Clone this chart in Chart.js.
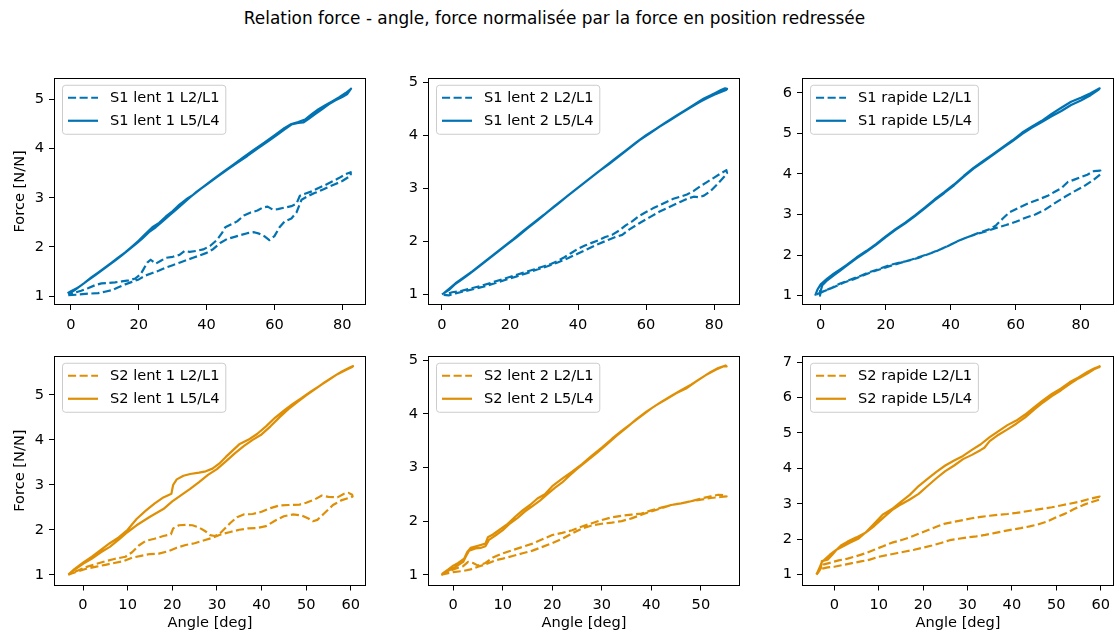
<!DOCTYPE html>
<html>
<head>
<meta charset="utf-8">
<script src="https://cdn.jsdelivr.net/npm/chart.js@4.4.1/dist/chart.umd.min.js"></script>
<style>
  html, body { margin: 0; padding: 0; background: #fff; }
  #fig { position: relative; width: 1117px; height: 634px; overflow: hidden; background: #fff; }
  #fig canvas { position: absolute; }
  #suptitle {
    position: absolute; left: -4px; top: 8px; width: 1117px;
    text-align: center; line-height: 22px;
    font: 16.9px "DejaVu Sans", sans-serif; color: #000;
  }
</style>
</head>
<body>
<div id="fig">
  <div id="suptitle">Relation force - angle, force normalisée par la force en position redressée</div>
</div>
<script>
// tick labels
const xTicksS1 = [0, 20, 40, 60, 80];
const xTicksS2 = [0, 10, 20, 30, 40, 50, 60];
const xTicksS2lent2 = [0, 10, 20, 30, 40, 50];
const yTicks5 = [1, 2, 3, 4, 5];
const yTicks6 = [1, 2, 3, 4, 5, 6];
const yTicks7 = [1, 2, 3, 4, 5, 6, 7];

// S1 lent 1 : angle [deg] / force [N/N], charge puis décharge
const s1Lent1L21Angle = [
  -0.8, 2, 5, 8, 10, 12, 14, 16, 18, 20,
  22, 24, 26, 28, 30, 32, 34, 36, 38, 40,
  42, 44, 46, 48, 50, 52, 54, 55.5, 57, 58.5,
  60, 61.5, 63, 65, 66.5, 68, 70, 72, 74, 76,
  78, 80, 82.5,
  82.5, 81, 79, 77, 75, 73, 71, 69, 67.5, 66.5,
  65, 63, 61, 59.5, 58, 56.5, 55, 53, 51, 49,
  47, 45.5, 44.5, 43, 41, 39, 37, 35, 33.5, 32,
  30, 28, 26.5, 25, 23.5, 22.5, 21.5, 20.5, 19, 17,
  15, 13, 11, 9, 7, 5, 3, 1, -0.8];
const s1Lent1L21Force = [
  1.02, 1.03, 1.05, 1.06, 1.09, 1.12, 1.18, 1.24, 1.29, 1.34,
  1.42, 1.47, 1.52, 1.58, 1.63, 1.68, 1.73, 1.78, 1.83, 1.88,
  1.96, 2.08, 2.16, 2.2, 2.24, 2.28, 2.3, 2.27, 2.22, 2.14,
  2.22, 2.4, 2.52, 2.58, 2.7, 2.96, 3.04, 3.1, 3.16, 3.22,
  3.28, 3.34, 3.45,
  3.52, 3.48, 3.4, 3.33, 3.26, 3.2, 3.13, 3.08, 3.04, 2.88,
  2.83, 2.8, 2.77, 2.76, 2.82, 2.8, 2.74, 2.7, 2.64, 2.52,
  2.45, 2.4, 2.28, 2.14, 2.02, 1.95, 1.92, 1.9, 1.92, 1.84,
  1.8, 1.78, 1.72, 1.66, 1.74, 1.68, 1.56, 1.44, 1.36, 1.32,
  1.3, 1.28, 1.27, 1.26, 1.22, 1.16, 1.11, 1.07, 1.04];
const s1Lent1L54Angle = [
  -0.8, 1, 3, 5, 7, 9, 11, 13, 15, 17,
  19, 21, 23, 25, 27, 29, 31, 33, 35, 37,
  40, 43, 46, 49, 52, 55, 58, 61, 63, 65,
  67, 68.5, 70, 72, 74, 76, 78, 80, 81.5, 82.6,
  82.3, 81, 79, 77, 75, 73, 71, 69, 67, 65,
  63, 60, 57, 54, 51, 48, 45, 42, 39, 36,
  34, 32, 30, 28, 26, 24, 22, 20, 18, 16,
  14, 12, 10, 8, 6, 4, 2, 0, -1];
const s1Lent1L54Force = [
  1.04, 1.12, 1.22, 1.32, 1.42, 1.52, 1.62, 1.72, 1.83, 1.94,
  2.05, 2.17, 2.3, 2.4, 2.52, 2.64, 2.76, 2.88, 3.0, 3.12,
  3.27, 3.42, 3.57, 3.71, 3.85, 4.0, 4.14, 4.29, 4.39, 4.49,
  4.52, 4.53, 4.6, 4.7, 4.8, 4.9, 4.98, 5.05, 5.11, 5.22,
  5.2, 5.13, 5.04, 4.96, 4.88, 4.8, 4.7, 4.59, 4.54, 4.5,
  4.42, 4.27, 4.12, 3.98, 3.83, 3.68, 3.53, 3.38, 3.22, 3.06,
  2.97, 2.86, 2.73, 2.62, 2.49, 2.4, 2.27, 2.13, 2.01, 1.89,
  1.79, 1.68, 1.58, 1.48, 1.38, 1.27, 1.17, 1.1, 1.06];

// S1 lent 2
const s1Lent2L21Angle = [
  0.5, 2, 4, 6, 8, 10, 13, 16, 19, 22,
  25, 28, 31, 34, 37, 40, 43, 46, 49, 51,
  53, 55, 58, 61, 64, 67, 70, 72, 74, 75.5,
  77, 79, 81, 83, 83.8,
  83.6, 82, 80, 78, 76, 74, 72, 70, 68, 66,
  64, 62, 60, 58, 56, 54, 52, 50, 48, 46,
  44, 42, 40, 38, 36, 34, 32, 30, 27, 24,
  21, 18, 15, 12, 9, 6, 3, 1];
const s1Lent2L21Force = [
  0.99, 0.98, 1.02, 1.05, 1.08, 1.11, 1.16, 1.22, 1.28, 1.34,
  1.4, 1.47, 1.53, 1.6, 1.68, 1.77, 1.86, 1.95, 2.03, 2.08,
  2.12, 2.22, 2.34, 2.45, 2.56, 2.65, 2.74, 2.8, 2.84, 2.83,
  2.86, 2.95, 3.08, 3.22, 3.28,
  3.34, 3.28, 3.2, 3.12, 3.04, 2.95, 2.88, 2.84, 2.8, 2.74,
  2.68, 2.62, 2.55, 2.48, 2.38, 2.3, 2.2, 2.12, 2.08, 2.02,
  1.97, 1.92, 1.86, 1.78, 1.7, 1.63, 1.57, 1.53, 1.47, 1.41,
  1.35, 1.29, 1.23, 1.17, 1.12, 1.07, 1.04, 1.0];
const s1Lent2L54Angle = [
  0, 2, 4, 6, 8, 10, 13, 16, 19, 22,
  25, 28, 31, 34, 37, 40, 43, 46, 49, 52,
  55, 58, 61, 64, 67, 70, 73, 76, 78, 80,
  82, 83.5, 83.8,
  83.2, 82, 80.5, 79, 77, 75, 72, 69, 66, 63,
  60, 57, 54, 51, 48, 45, 42, 39, 36, 33,
  30, 27, 24, 21, 18, 15, 12, 9, 6, 4,
  2, 0.5];
const s1Lent2L54Force = [
  1.0, 1.08, 1.2, 1.29, 1.38, 1.48, 1.63, 1.78, 1.93, 2.08,
  2.24, 2.39, 2.55, 2.7, 2.86, 3.01, 3.16, 3.31, 3.45, 3.6,
  3.75, 3.9, 4.03, 4.16, 4.28, 4.4, 4.52, 4.63, 4.7, 4.76,
  4.81, 4.85, 4.87,
  4.88, 4.85, 4.8, 4.75, 4.69, 4.61, 4.49, 4.37, 4.25, 4.12,
  4.0, 3.86, 3.71, 3.56, 3.41, 3.26, 3.11, 2.96, 2.81, 2.66,
  2.5, 2.35, 2.2, 2.04, 1.89, 1.74, 1.59, 1.44, 1.3, 1.21,
  1.1, 1.02];

// S1 rapide
const s1RapideL21Angle = [
  -1.3, 0, 3, 6, 9, 12, 15, 18, 21, 24,
  27, 30, 33, 36, 39, 42, 45, 48, 51, 54,
  57, 60, 63, 66, 69, 72, 75, 78, 81, 84,
  86,
  86, 84, 82, 80, 78, 76, 74, 72, 70, 67,
  64, 61, 58, 56, 54, 52, 49, 46, 43, 40,
  37, 34, 31, 28, 25, 22, 19, 16, 13, 10,
  7, 4, 1, -1.3];
const s1RapideL21Force = [
  1.03, 1.08, 1.18, 1.3, 1.39, 1.48, 1.58, 1.66, 1.75, 1.81,
  1.86, 1.93, 2.02, 2.11, 2.22, 2.34, 2.44, 2.52, 2.59, 2.67,
  2.74, 2.82, 2.92, 3.0, 3.12, 3.28, 3.43, 3.57, 3.7, 3.86,
  3.99,
  4.08, 4.07, 3.98, 3.92, 3.86, 3.8, 3.65, 3.56, 3.47, 3.37,
  3.28, 3.17, 3.05, 2.9, 2.74, 2.64, 2.56, 2.47, 2.37, 2.26,
  2.15, 2.05, 1.97, 1.89, 1.82, 1.75, 1.67, 1.59, 1.5, 1.4,
  1.32, 1.21, 1.11, 1.02];
const s1RapideL54Angle = [
  -1.7, -1, 0, 2, 4, 6, 8, 11, 14, 17,
  20, 23, 26, 29, 32, 35, 38, 41, 44, 47,
  50, 53, 56, 59, 62, 65, 68, 71, 74, 77,
  80, 83, 85.8,
  85.5, 83, 80, 77, 74, 71, 68, 65, 62, 59,
  56, 53, 50, 47, 44, 41, 38, 35, 32, 29,
  26, 23, 20, 17, 14, 11, 8, 6, 4, 2,
  0.5, 0, -0.2];
const s1RapideL54Force = [
  1.0, 1.15, 1.28, 1.42, 1.54, 1.65, 1.76, 1.94, 2.1, 2.27,
  2.46, 2.64, 2.8, 2.98, 3.17, 3.37, 3.55, 3.74, 3.95, 4.15,
  4.32, 4.49, 4.66, 4.83, 5.02, 5.17, 5.31, 5.48, 5.63, 5.78,
  5.88, 5.99, 6.11,
  6.08, 5.94, 5.81, 5.7, 5.55, 5.42, 5.28, 5.14, 4.99, 4.81,
  4.64, 4.47, 4.3, 4.13, 3.93, 3.72, 3.53, 3.35, 3.15, 2.96,
  2.78, 2.62, 2.44, 2.25, 2.08, 1.92, 1.74, 1.62, 1.5, 1.38,
  1.26, 1.12, 1.0];

// S2 lent 1
const s2Lent1L21Angle = [
  -3.3, -1, 1, 3, 5, 7, 9, 11, 13, 15,
  17, 19, 21, 23, 25, 27, 29, 31, 33, 35,
  37, 39, 41, 43, 45, 47, 49, 50.5, 51.5, 52.5,
  54, 56, 58, 60, 60.4,
  60.3, 59.5, 58.5, 57, 55, 53.5, 52, 50, 48.5, 46,
  44, 42, 40, 38, 36, 34.5, 33, 31.5, 30.5, 29.5,
  28.5, 27.5, 26, 24.5, 23, 21.5, 20.2, 19.7, 18, 16,
  14, 12.5, 11, 9.5, 7, 5, 3, 1, -1, -3];
const s2Lent1L21Force = [
  1.0, 1.08, 1.14, 1.18, 1.22, 1.26, 1.3, 1.38, 1.42, 1.46,
  1.47, 1.52, 1.6, 1.66, 1.7, 1.76, 1.82, 1.9, 1.95, 2.0,
  2.03, 2.04, 2.08, 2.2, 2.3, 2.34, 2.32, 2.25, 2.19, 2.22,
  2.36, 2.55, 2.66, 2.72, 2.74,
  2.78, 2.82, 2.8, 2.72, 2.73, 2.76, 2.68, 2.6, 2.56, 2.55,
  2.54, 2.48, 2.4, 2.35, 2.34, 2.28, 2.15, 2.0, 1.9, 1.86,
  1.88, 1.96, 2.05, 2.1, 2.11, 2.1, 2.03, 1.9, 1.86, 1.8,
  1.75, 1.65, 1.5, 1.4, 1.35, 1.3, 1.24, 1.18, 1.1, 1.02];
const s2Lent1L54Angle = [
  -3.3, -2, 0, 2, 4, 6, 8, 10, 12, 15,
  18, 20, 22, 24, 26, 28, 30, 32, 34, 36,
  38, 40, 42, 44, 46, 48, 50, 52, 54, 56,
  58, 60, 60.5,
  60.3, 59, 57, 55, 53, 51, 49, 47, 45, 43,
  41, 39, 37, 35, 33.5, 32, 30.5, 29, 27.5, 26,
  24, 22.5, 21, 20.2, 19.8, 18, 16, 14, 12, 10,
  8, 6, 4, 2, 0, -2, -3.2];
const s2Lent1L54Force = [
  1.0, 1.1, 1.24, 1.36, 1.5, 1.62, 1.78, 1.95, 2.1, 2.29,
  2.46, 2.63, 2.77, 2.91, 3.06, 3.22, 3.35, 3.52, 3.7, 3.86,
  4.0, 4.12, 4.3, 4.5, 4.68, 4.84, 4.99, 5.13, 5.27, 5.4,
  5.52, 5.62, 5.64,
  5.62, 5.56, 5.46, 5.33, 5.2, 5.07, 4.93, 4.8, 4.65, 4.49,
  4.3, 4.13, 4.0, 3.9, 3.76, 3.62, 3.47, 3.36, 3.3, 3.27,
  3.24, 3.2, 3.12, 3.0, 2.8, 2.72, 2.58, 2.42, 2.24, 2.0,
  1.83, 1.7, 1.55, 1.4, 1.27, 1.12, 1.01];

// S2 lent 2
const s2Lent2L21Angle = [
  -2.4, -1, 0, 2, 3.5, 5, 6.7, 8.5, 10, 12,
  14, 16, 18, 20, 22, 24, 26, 28, 30, 32,
  34, 36, 38, 40, 42, 44, 46, 48, 50, 52,
  54, 55.2,
  55, 53.5, 52, 50, 48, 46, 44, 42, 40, 38,
  36, 34, 32, 30, 28, 26, 24, 22, 20, 18,
  16, 14, 12, 10, 8, 6.5, 5, 4, 3, 2,
  0, -1, -2.2];
const s2Lent2L21Force = [
  1.0, 1.03, 1.05, 1.07, 1.1, 1.15, 1.2, 1.27, 1.3, 1.35,
  1.4, 1.45, 1.52, 1.59, 1.67, 1.77, 1.86, 1.92, 1.95, 1.97,
  2.0, 2.05, 2.12, 2.18, 2.24, 2.3, 2.33, 2.37, 2.4, 2.43,
  2.45, 2.46,
  2.48, 2.49, 2.46, 2.42, 2.37, 2.33, 2.3, 2.25, 2.2, 2.14,
  2.12, 2.1, 2.07, 2.02, 1.96, 1.9, 1.83, 1.78, 1.74, 1.66,
  1.58, 1.52, 1.46, 1.4, 1.32, 1.22, 1.17, 1.22, 1.24, 1.16,
  1.1, 1.06, 1.01];
const s2Lent2L54Angle = [
  -2.4, -1.5, 0, 1, 2, 2.6, 3.2, 4.5, 5.5, 6.5,
  7.2, 8.5, 10, 11.5, 13, 14.5, 16, 17.5, 19, 20.5,
  22, 23.5, 25, 27, 29, 31, 33, 35, 37, 39,
  41, 43, 45, 47, 49, 51, 53, 54.5, 55.2,
  55, 53.5, 52, 50, 48, 46, 44, 42, 40, 38,
  36, 34, 32, 30, 28, 26, 24, 22, 20, 18.5,
  17, 15.5, 14, 12.5, 11, 9.5, 8, 7, 6.5, 5,
  3.5, 2.8, 2.2, 1, 0, -1, -2.2];
const s2Lent2L54Force = [
  1.0, 1.05, 1.12, 1.18, 1.24, 1.35, 1.45, 1.49, 1.5, 1.53,
  1.65, 1.73, 1.83, 1.96, 2.06, 2.18, 2.28, 2.38, 2.5, 2.62,
  2.72, 2.85, 2.97, 3.12, 3.27, 3.43, 3.59, 3.74, 3.9, 4.04,
  4.16, 4.27, 4.38, 4.47, 4.6, 4.72, 4.82, 4.88, 4.88,
  4.9, 4.85, 4.78, 4.66, 4.54, 4.44, 4.33, 4.22, 4.1, 3.96,
  3.82, 3.68, 3.53, 3.37, 3.22, 3.06, 2.92, 2.79, 2.65, 2.5,
  2.42, 2.3, 2.2, 2.08, 1.95, 1.85, 1.75, 1.7, 1.58, 1.54,
  1.5, 1.42, 1.3, 1.22, 1.17, 1.1, 1.02];

// S2 rapide
const s2RapideL21Angle = [
  -4, -3, -2.5, -1, 1, 3, 5, 7, 9, 11,
  13, 15, 17, 19, 21, 23, 25, 27, 29, 31,
  33, 35, 37, 39, 41, 43, 45, 47, 49, 51,
  53, 55, 57, 59, 59.8,
  59.8, 58, 56, 54, 52, 50, 48, 46, 44, 42,
  40, 38, 36, 34, 32, 30, 28, 26, 24, 22,
  20, 18, 16, 14, 12, 10, 8, 6, 4, 2,
  0, -1.5, -3, -4];
const s2RapideL21Force = [
  1.0, 1.18, 1.28, 1.33, 1.4, 1.45, 1.52, 1.6, 1.7, 1.8,
  1.9, 1.97, 2.05, 2.15, 2.25, 2.35, 2.44, 2.49, 2.54, 2.59,
  2.63, 2.66, 2.69, 2.71, 2.74, 2.78, 2.82, 2.86, 2.9, 2.95,
  3.0, 3.05, 3.12, 3.18, 3.2,
  3.12, 3.05, 2.96, 2.85, 2.72, 2.62, 2.5, 2.42, 2.36, 2.31,
  2.27, 2.22, 2.17, 2.12, 2.08, 2.05, 2.01, 1.97, 1.89, 1.82,
  1.76, 1.7, 1.65, 1.6, 1.55, 1.5, 1.42, 1.37, 1.32, 1.27,
  1.22, 1.2, 1.16, 1.0];
const s2RapideL54Angle = [
  -4, -3.3, -2.8, -1, 0.5, 2, 3.5, 5.5, 7, 8.8,
  11, 13, 15, 17, 19, 21, 23, 25, 27, 29,
  31, 33, 35, 37, 39, 41, 43, 45, 47, 49,
  51, 53, 55, 57, 58.5, 59.8,
  59.7, 58.5, 57, 55, 53, 51, 49, 47, 45, 43,
  41, 39, 37, 35, 33.8, 33, 31, 29, 27, 25,
  23, 21, 19, 17, 15, 13, 11, 9, 7, 5,
  3, 1.5, 0.5, -0.5, -1.5, -2.8, -3, -4];
const s2RapideL54Force = [
  1.0, 1.2, 1.35, 1.56, 1.7, 1.8, 1.9, 2.02, 2.18, 2.41,
  2.7, 2.85, 3.05, 3.25, 3.5, 3.7, 3.9, 4.08, 4.22, 4.35,
  4.52, 4.68, 4.88, 5.05, 5.22, 5.35, 5.52, 5.72, 5.92, 6.1,
  6.25, 6.43, 6.57, 6.72, 6.82, 6.88,
  6.86, 6.8, 6.68, 6.54, 6.38, 6.2, 6.04, 5.86, 5.66, 5.44,
  5.26, 5.1, 4.95, 4.77, 4.58, 4.52, 4.38, 4.26, 4.08, 3.92,
  3.72, 3.5, 3.28, 3.12, 2.98, 2.82, 2.6, 2.37, 2.18, 2.05,
  1.93, 1.82, 1.7, 1.55, 1.42, 1.38, 1.2, 1.0];

const BLUE = '#0173b2';
const ORANGE = '#de8f05';
const DASH = [8.1, 3.5];
const FONT_PX = 14.6;

// grid of subplots (pixel boxes of each axes area)
const colLeft = [54, 428, 802];
const plotW = 312;
const rowTop = [74, 352];
const rowH = [231, 233];
const yAxisW = 54;

const panels = [
  { name: 'S1 lent 1', color: BLUE, l21: [s1Lent1L21Angle, s1Lent1L21Force], l54: [s1Lent1L54Angle, s1Lent1L54Force],
    x: [-5.0, 87.0], y: [0.82, 5.44], xTicks: xTicksS1, yTicks: yTicks5 },
  { name: 'S1 lent 2', color: BLUE, l21: [s1Lent2L21Angle, s1Lent2L21Force], l54: [s1Lent2L54Angle, s1Lent2L54Force],
    x: [-4.1, 87.6], y: [0.80, 5.08], xTicks: xTicksS1, yTicks: yTicks5 },
  { name: 'S1 rapide', color: BLUE, l21: [s1RapideL21Angle, s1RapideL21Force], l54: [s1RapideL54Angle, s1RapideL54Force],
    x: [-5.75, 90.2], y: [0.77, 6.37], xTicks: xTicksS1, yTicks: yTicks6 },
  { name: 'S2 lent 1', color: ORANGE, l21: [s2Lent1L21Angle, s2Lent1L21Force], l54: [s2Lent1L54Angle, s2Lent1L54Force],
    x: [-6.5, 63.4], y: [0.76, 5.87], xTicks: xTicksS2, yTicks: yTicks5 },
  { name: 'S2 lent 2', color: ORANGE, l21: [s2Lent2L21Angle, s2Lent2L21Force], l54: [s2Lent2L54Angle, s2Lent2L54Force],
    x: [-5.1, 57.9], y: [0.80, 5.08], xTicks: xTicksS2lent2, yTicks: yTicks5 },
  { name: 'S2 rapide', color: ORANGE, l21: [s2RapideL21Angle, s2RapideL21Force], l54: [s2RapideL54Angle, s2RapideL54Force],
    x: [-7.27, 63.0], y: [0.69, 7.18], xTicks: xTicksS2, yTicks: yTicks7 },
];

Chart.defaults.font.family = '"DejaVu Sans", sans-serif';
Chart.defaults.font.size = FONT_PX;
Chart.defaults.color = '#000';

function toPoints(angle, force) {
  return angle.map((a, i) => ({ x: a, y: force[i] }));
}

function roundedRect(ctx, x, y, w, h, r) {
  ctx.beginPath();
  ctx.moveTo(x + r, y);
  ctx.arcTo(x + w, y, x + w, y + h, r);
  ctx.arcTo(x + w, y + h, x, y + h, r);
  ctx.arcTo(x, y + h, x, y, r);
  ctx.arcTo(x, y, x + w, y, r);
  ctx.closePath();
}

// axes frame + legend box in the upper left corner
const frameLegend = {
  id: 'frameLegend',
  afterDatasetsDraw(chart) {
    const { ctx, chartArea: a } = chart;
    ctx.save();
    ctx.strokeStyle = '#000';
    ctx.lineWidth = 1;
    ctx.setLineDash([]);
    ctx.strokeRect(Math.round(a.left) + 0.5, Math.round(a.top) + 0.5,
                   Math.round(a.width) - 1, Math.round(a.height) - 1);

    const sets = chart.data.datasets;
    ctx.font = FONT_PX + 'px "DejaVu Sans"';
    const textW = Math.max(...sets.map(d => ctx.measureText(d.label).width));
    const bx = a.left + 8.5, by = a.top + 7.5;
    roundedRect(ctx, bx, by, 48 + textW + 5.8, 49, 3);
    ctx.fillStyle = 'rgba(255,255,255,0.8)';
    ctx.fill();
    ctx.strokeStyle = '#cccccc';
    ctx.stroke();

    sets.forEach((d, i) => {
      const cy = a.top + 20 + i * 23;
      ctx.beginPath();
      ctx.setLineDash(d.borderDash || []);
      ctx.strokeStyle = d.borderColor;
      ctx.lineWidth = 2.2;
      ctx.moveTo(a.left + 14, cy);
      ctx.lineTo(a.left + 44, cy);
      ctx.stroke();
      ctx.setLineDash([]);
      ctx.fillStyle = '#000';
      ctx.textBaseline = 'middle';
      ctx.textAlign = 'left';
      ctx.fillText(d.label, a.left + 56, cy);
    });
    ctx.restore();
  }
};

const fig = document.getElementById('fig');

panels.forEach((p, i) => {
  const col = i % 3, row = Math.floor(i / 3);
  const xAxisH = row === 1 ? 46.5 : 30;
  const canvas = document.createElement('canvas');
  canvas.width = yAxisW + plotW + 4;
  canvas.height = Math.round(10 + rowH[row] + xAxisH);
  canvas.style.left = (colLeft[col] - yAxisW) + 'px';
  canvas.style.top = (rowTop[row] - 10) + 'px';
  fig.appendChild(canvas);

  new Chart(canvas, {
    type: 'scatter',
    data: {
      datasets: [
        { label: p.name + ' L2/L1', data: toPoints(...p.l21), borderColor: p.color, borderDash: DASH },
        { label: p.name + ' L5/L4', data: toPoints(...p.l54), borderColor: p.color, borderDash: [] },
      ].map(d => Object.assign(d, {
        showLine: true, pointRadius: 0, borderWidth: 2.2, fill: false, tension: 0,
        borderJoinStyle: 'round', backgroundColor: p.color,
      })),
    },
    options: {
      responsive: false,
      animation: false,
      layout: { padding: { top: 10, right: 4, left: 0, bottom: 0 } },
      plugins: { legend: { display: false }, tooltip: { enabled: false } },
      scales: {
        x: {
          type: 'linear', min: p.x[0], max: p.x[1],
          afterBuildTicks: axis => { axis.ticks = p.xTicks.map(v => ({ value: v })); },
          afterFit: axis => { axis.height = xAxisH; },
          grid: { drawOnChartArea: false, drawTicks: true, tickLength: 5, color: '#000' },
          border: { display: false },
          ticks: { padding: 6, maxRotation: 0, autoSkip: false },
          title: { display: row === 1, text: 'Angle [deg]', padding: { top: 0, bottom: 0 } },
        },
        y: {
          type: 'linear', min: p.y[0], max: p.y[1],
          afterBuildTicks: axis => { axis.ticks = p.yTicks.map(v => ({ value: v })); },
          afterFit: axis => { axis.width = yAxisW; },
          grid: { drawOnChartArea: false, drawTicks: true, tickLength: 5, color: '#000' },
          border: { display: false },
          ticks: { padding: 5, autoSkip: false },
          title: { display: col === 0, text: 'Force [N/N]', padding: { top: 11, bottom: 0 } },
        },
      },
    },
    plugins: [frameLegend],
  });
});
</script>
</body>
</html>
